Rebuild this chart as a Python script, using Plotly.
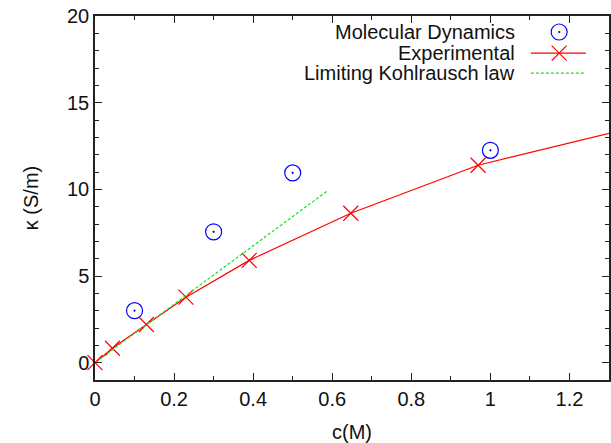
import plotly.graph_objects as go

# ---- data ----
md_c = [0.1, 0.3, 0.5, 1.0]
md_kappa = [3.0, 7.55, 10.95, 12.25]

exp_c = [0.0, 0.044, 0.13, 0.23, 0.39, 0.647, 0.969, 1.6]
exp_kappa = [0.0, 0.83, 2.2, 3.78, 5.9, 8.62, 11.39, 14.9]

klaw_c = [0.0, 0.59]
klaw_kappa = [0.0, 9.95]

x_ticks = [0, 0.2, 0.4, 0.6, 0.8, 1, 1.2]
x_ticklabels = ["0", "0.2", "0.4", "0.6", "0.8", "1", "1.2"]
y_ticks = [0, 5, 10, 15, 20]
y_ticklabels = ["0", "5", "10", "15", "20"]

series_names = ["Molecular Dynamics", "Experimental", "Limiting Kohlrausch law"]

XMAX = 1.3
YMIN, YMAX = -1, 20

RED = "#ff0000"
BLUE = "#0000ff"
GREEN = "#11e811"
FONT = "Liberation Sans, Arial, Helvetica, sans-serif"
FS = 20

fig = go.Figure()

# Molecular dynamics
fig.add_trace(go.Scatter(
    x=md_c, y=md_kappa, mode="markers", showlegend=False, cliponaxis=False,
    marker=dict(symbol="circle-open-dot", size=16, color=BLUE, line=dict(width=1.2, color=BLUE)),
))

# Experimental (in-range points with markers, continuation line beyond range)
n_in = sum(1 for c in exp_c if c <= XMAX)
fig.add_trace(go.Scatter(
    x=exp_c[:n_in], y=exp_kappa[:n_in], mode="lines+markers", showlegend=False, cliponaxis=False,
    line=dict(color=RED, width=1.2),
    marker=dict(symbol="x-thin-open", size=15, color=RED, line=dict(width=1.2, color=RED)),
))
fig.add_trace(go.Scatter(
    x=exp_c[n_in - 1:], y=exp_kappa[n_in - 1:], mode="lines", showlegend=False,
    line=dict(color=RED, width=1.2),
))

# Limiting Kohlrausch law
fig.add_trace(go.Scatter(
    x=klaw_c, y=klaw_kappa, mode="lines", showlegend=False,
    line=dict(color=GREEN, width=1.2, dash="3px,2px"),
))

# ---- gnuplot-style key (text right-aligned, sample on the right) ----
key_y = [0.956, 0.898, 0.843]
key_text_x = 0.821
key_x0, key_xm, key_x1 = 0.848, 0.903, 0.955

fig.add_trace(go.Scatter(
    x=[key_xm], y=[key_y[0]], xaxis="x2", yaxis="y2", mode="markers", showlegend=False,
    marker=dict(symbol="circle-open-dot", size=16, color=BLUE, line=dict(width=1.2, color=BLUE)),
    hoverinfo="skip",
))
fig.add_trace(go.Scatter(
    x=[key_x0, key_x1], y=[key_y[1], key_y[1]], xaxis="x2", yaxis="y2", mode="lines", showlegend=False,
    line=dict(color=RED, width=1.2), hoverinfo="skip",
))
fig.add_trace(go.Scatter(
    x=[key_xm], y=[key_y[1]], xaxis="x2", yaxis="y2", mode="markers", showlegend=False,
    marker=dict(symbol="x-thin-open", size=15, color=RED, line=dict(width=1.2, color=RED)),
    hoverinfo="skip",
))
fig.add_trace(go.Scatter(
    x=[key_x0, key_x1], y=[key_y[2], key_y[2]], xaxis="x2", yaxis="y2", mode="lines", showlegend=False,
    line=dict(color=GREEN, width=1.2, dash="3px,2px"), hoverinfo="skip",
))

annotations = []
for name, yy in zip(series_names, key_y):
    annotations.append(dict(
        x=key_text_x, y=yy, xref="paper", yref="paper", text=name, showarrow=False,
        xanchor="right", yanchor="middle", font=dict(family=FONT, size=FS, color="#111"),
    ))

axis_common = dict(
    showgrid=False, zeroline=False, showline=True, linecolor="#222", linewidth=1.5,
    mirror="allticks", ticks="inside", ticklen=7, tickwidth=1, tickcolor="#222",
    tickfont=dict(family=FONT, size=FS, color="#111"),
    automargin=False,
)

fig.update_layout(
    width=611, height=443,
    margin=dict(l=95, r=2, t=16, b=63),
    paper_bgcolor="white", plot_bgcolor="white",
    showlegend=False,
    font=dict(family=FONT, size=FS, color="#111"),
    xaxis=dict(
        range=[0, XMAX], tickvals=x_ticks, ticktext=x_ticklabels,
        minor=dict(dtick=0.1, ticks="inside", ticklen=4, tickcolor="#222", tickwidth=1),
        title=dict(text="c(M)", font=dict(family=FONT, size=FS, color="#111"), standoff=17),
        **axis_common,
    ),
    yaxis=dict(
        range=[YMIN, YMAX], tickvals=y_ticks, ticktext=y_ticklabels,
        minor=dict(dtick=1, ticks="inside", ticklen=4, tickcolor="#222", tickwidth=1),
        title=dict(text="κ (S/m)", font=dict(family=FONT, size=FS, color="#111"), standoff=23),
        **axis_common,
    ),
    xaxis2=dict(range=[0, 1], overlaying="x", visible=False, fixedrange=True),
    yaxis2=dict(range=[0, 1], overlaying="y", visible=False, fixedrange=True),
    annotations=annotations,
)

fig.write_html(
    "out.html",
    config={"displayModeBar": False},
    post_script="document.body.style.margin='0';document.body.style.padding='0';",
)
